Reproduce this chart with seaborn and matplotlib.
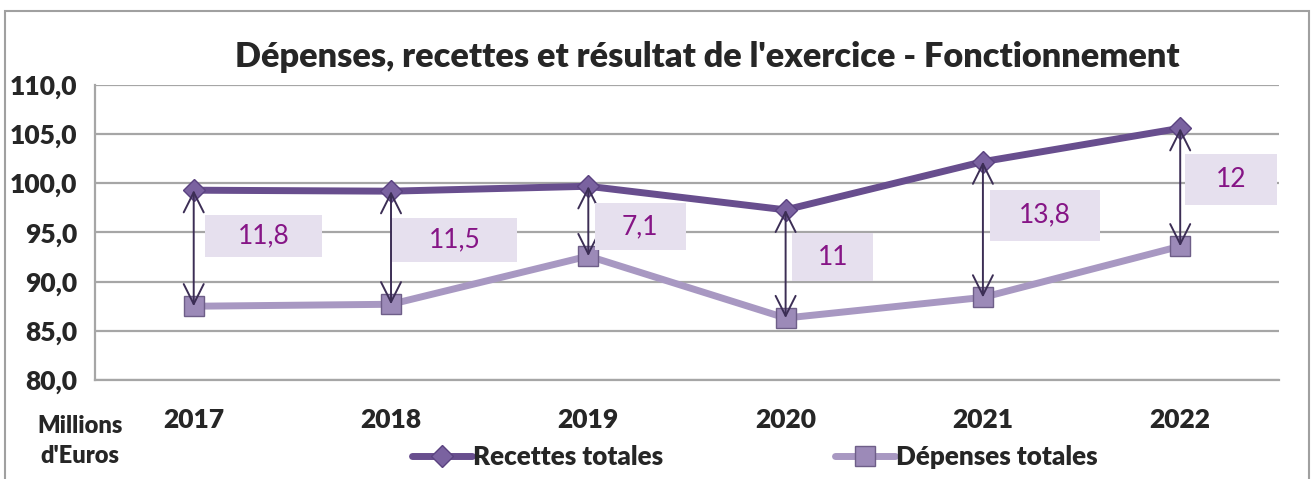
import matplotlib
matplotlib.use("Agg")
import matplotlib.pyplot as plt
import seaborn as sns
import pandas as pd
from matplotlib.patches import Rectangle

annees = ["2017", "2018", "2019", "2020", "2021", "2022"]
recettes = [99.3, 99.2, 99.7, 97.3, 102.2, 105.6]
depenses = [87.5, 87.7, 92.6, 86.3, 88.4, 93.6]
resultats = ["11,8", "11,5", "7,1", "11", "13,8", "12"]
# where each result box sits (category position, value)
box_x = [0.355, 1.324, 2.262, 3.24, 4.315, 5.259]
box_y = [94.64, 94.23, 95.56, 92.5, 96.75, 100.4]
# box sizes in pixels (w, h)
box_w = [117, 125, 91, 81, 110, 92]
box_h = [42, 44, 47, 48, 51, 51]

sns.set_style("white")
plt.rcParams["font.family"] = ["Lato", "DejaVu Sans"]

df = pd.DataFrame({"annee": annees, "Recettes totales": recettes, "Dépenses totales": depenses})

fig = plt.figure(figsize=(13.13, 4.79), dpi=100)
ax = fig.add_axes([0.0724, 0.2067, 0.9016, 0.6159])

c_rec = "#684E8E"
c_dep = "#A898C2"

sns.lineplot(data=df, x="annee", y="Recettes totales", ax=ax, color=c_rec, lw=5,
             marker="D", markersize=11, markerfacecolor="#7A62A0", markeredgecolor="#5A4280",
             markeredgewidth=1, label="Recettes totales", zorder=3)
sns.lineplot(data=df, x="annee", y="Dépenses totales", ax=ax, color=c_dep, lw=5,
             marker="s", markersize=14, markerfacecolor="#9C8AB8", markeredgecolor="#6E5E88",
             markeredgewidth=1, label="Dépenses totales", zorder=3)

ax.set_xlim(-0.5, 5.5)
ax.set_ylim(80, 110)
fig.canvas.draw()
# pixel -> data scale
px_x = (ax.transData.transform((1, 0))[0] - ax.transData.transform((0, 0))[0])
px_y = (ax.transData.transform((0, 1))[1] - ax.transData.transform((0, 0))[1])

for i in range(len(annees)):
    ax.annotate("", xy=(i, depenses[i]), xytext=(i, recettes[i]),
                arrowprops=dict(arrowstyle="<->", color="#3C2E55", lw=1.4,
                                mutation_scale=36, shrinkA=0, shrinkB=0), zorder=4)
    w = box_w[i] / px_x
    h = box_h[i] / px_y
    ax.add_patch(Rectangle((box_x[i] - w / 2, box_y[i] - h / 2), w, h, fc="#E6E0EE",
                           ec="none", zorder=5))
    ax.text(box_x[i], box_y[i], resultats[i], ha="center", va="center", fontsize=19,
            color="#861586", zorder=6)

ax.set_yticks([80, 85, 90, 95, 100, 105, 110])
ax.set_yticklabels([f"{v:.1f}".replace(".", ",") for v in ax.get_yticks()])
ax.grid(axis="y", color="#A6A6A6", lw=1.6)
ax.set_axisbelow(True)
for s in ["top", "right"]:
    ax.spines[s].set_visible(False)
for s in ["left", "bottom"]:
    ax.spines[s].set_color("#A6A6A6")
    ax.spines[s].set_linewidth(1.6)
ax.tick_params(axis="y", length=8, width=1.6, color="#A6A6A6", labelsize=19, pad=5)
ax.tick_params(axis="x", length=0, labelsize=19, pad=20)
for lab in ax.get_xticklabels() + ax.get_yticklabels():
    lab.set_fontweight("heavy")
ax.set_xlabel("")
ax.set_ylabel("")

fig.text(0.539, 0.881, "Dépenses, recettes et résultat de l'exercice - Fonctionnement",
         ha="center", va="center", fontsize=24.7, fontweight="heavy")
fig.text(0.061, 0.079, "Millions\nd'Euros", ha="center", va="center", fontsize=17,
         fontweight="heavy", linespacing=1.45)

leg = ax.legend(loc="center", bbox_to_anchor=(0.575, 0.045), bbox_transform=fig.transFigure,
                ncol=2, frameon=False, columnspacing=6.6, handlelength=2.3, handletextpad=0.05,
                prop={"weight": "heavy", "size": 18.7})

fig.patches.append(Rectangle((0.004, -0.05), 0.993, 1.028, transform=fig.transFigure,
                             fill=False, ec="#A0A0A0", lw=1.5))

fig.savefig("out.png", dpi=100)
